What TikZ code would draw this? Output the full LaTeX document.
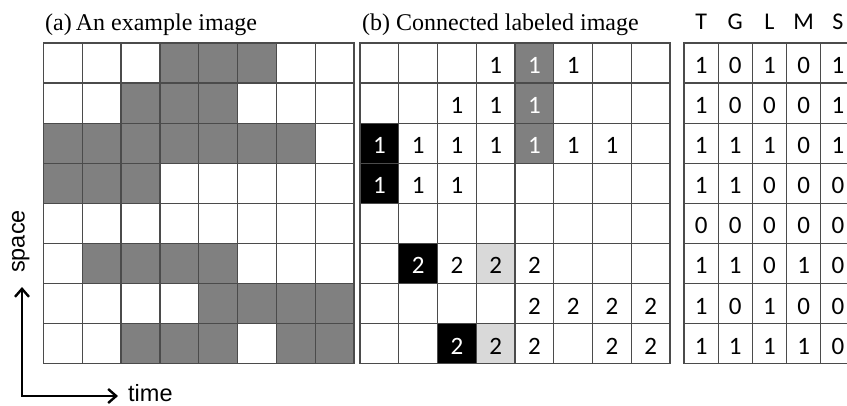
\documentclass[tikz,border=0pt]{standalone}
\usepackage{fontspec}
\setmainfont{Liberation Serif}
\newfontfamily\calib{Carlito}
\newfontfamily\arialf{Liberation Sans}
\usetikzlibrary{backgrounds,arrows.meta}
\definecolor{gridc}{RGB}{75,75,75}
\definecolor{midgray}{RGB}{128,128,128}
\definecolor{lightg}{RGB}{217,217,217}
\begin{document}
\begin{tikzpicture}[x=1pt,y=-1pt,
  cellbase/.style={draw=gridc, line width=1.3pt, inner sep=0pt, minimum height=40.1pt,
     font=\calib\fontsize{25}{25}\selectfont, text height=20.8pt, text depth=0pt},
  cellA/.style={cellbase, minimum width=38.85pt},
  cellB/.style={cellbase, minimum width=38.75pt},
  cellC/.style={cellbase, minimum width=34.2pt},
  digit/.style={inner sep=0pt, font=\calib\fontsize{25}{25}\selectfont, text height=20.8pt, text depth=0pt},
  title/.style={font=\fontsize{24}{24}\selectfont, anchor=base west, inner sep=0pt},
  head/.style={font=\calib\fontsize{24}{24}\selectfont, anchor=base, inner sep=0pt},
  axis/.style={font=\arialf\fontsize{23.5}{23.5}\selectfont, inner sep=0pt},
  barb/.tip={Straight Barb[length=8pt,width=14pt,line width=2.4pt]}
]
\useasboundingbox (0,0) rectangle (847,405);
\clip (0,0) rectangle (847,405);

% titles
\node[title] (ta) at (45,30) {(a)\,An example image};
\node[title] (tb) at (362,30) {(b) Connected labeled image};

% header of table (c)
\foreach \h [count=\i from 0] in {T,G,L,M,S}
  \node[head] (h\i) at ({684+34.2*(\i+0.5)},29) {\h};

% grid (a)
\foreach \r in {0,...,7}
  \foreach \c in {0,...,7}
    \node[cellA] (a-\r-\c) at ({43.3+38.85*(\c+0.5)},{43+40.1*(\r+0.5)}) {};
\begin{scope}[on background layer]
\foreach \r/\cols in {0/{3,4,5},1/{2,3,4},2/{0,1,2,3,4,5,6},3/{0,1,2},5/{1,2,3,4},6/{4,5,6,7},7/{2,3,4,6,7}}
  \foreach \c in \cols
    \fill[midgray] (a-\r-\c.north west) rectangle (a-\r-\c.south east);
\end{scope}

% grid (b)
\foreach \r in {0,...,7}
  \foreach \c in {0,...,7}
    \node[cellB] (b-\r-\c) at ({360+38.75*(\c+0.5)},{43+40.1*(\r+0.5)}) {};
\foreach \r/\c/\t/\f/\tc in {
   0/3/1/white/black, 0/4/1/midgray/white, 0/5/1/white/black,
   1/2/1/white/black, 1/3/1/white/black, 1/4/1/midgray/white,
   2/0/1/black/white, 2/1/1/white/black, 2/2/1/white/black, 2/3/1/white/black,
   2/4/1/midgray/white, 2/5/1/white/black, 2/6/1/white/black,
   3/0/1/black/white, 3/1/1/white/black, 3/2/1/white/black,
   5/1/2/black/white, 5/2/2/white/black, 5/3/2/lightg/black, 5/4/2/white/black,
   6/4/2/white/black, 6/5/2/white/black, 6/6/2/white/black, 6/7/2/white/black,
   7/2/2/black/white, 7/3/2/lightg/black, 7/4/2/white/black, 7/6/2/white/black, 7/7/2/white/black}
{
  \begin{scope}[on background layer]
    \fill[\f] (b-\r-\c.north west) rectangle (b-\r-\c.south east);
  \end{scope}
  \node[digit, text=\tc] (bt-\r-\c) at (b-\r-\c) {\t};
}

% table (c)
\foreach \r/\vals in {0/{1,0,1,0,1},1/{1,0,0,0,1},2/{1,1,1,0,1},3/{1,1,0,0,0},
                      4/{0,0,0,0,0},5/{1,1,0,1,0},6/{1,0,1,0,0},7/{1,1,1,1,0}}
  \foreach \v [count=\c from 0] in \vals
    \node[cellC] (c-\r-\c) at ({684+34.2*(\c+0.5)},{43+40.1*(\r+0.5)}) {\v};

% axes
\coordinate (o) at (22,396);
\coordinate (up) at (22,287);
\coordinate (rt) at (118,396);
\draw[line width=2.4pt, line join=miter, {barb}-{barb}] (up) |- (rt);
\node[axis, rotate=90, anchor=base] (sp) at (24.5,241.5) {space};
\node[axis, anchor=base west] (tm) at (128,401) {time};
\end{tikzpicture}
\end{document}
